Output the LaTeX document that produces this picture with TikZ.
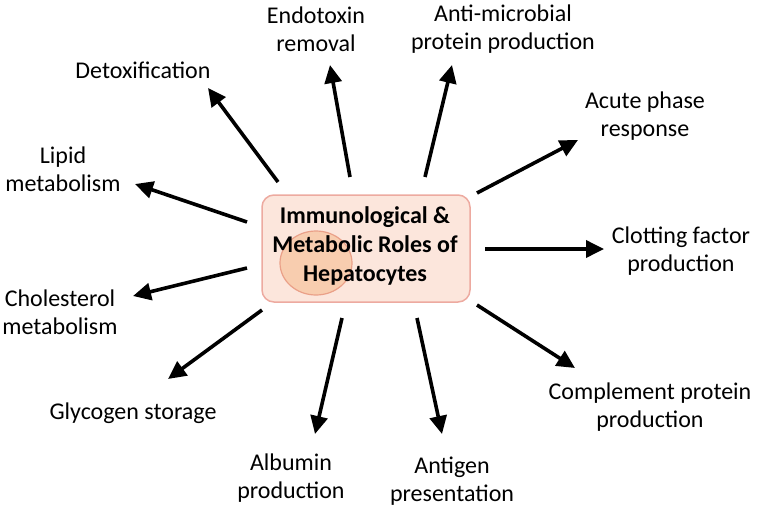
\documentclass[tikz,border=0pt]{standalone}
\usepackage{fontspec}
\setmainfont{Carlito}
\usetikzlibrary{arrows.meta}
\definecolor{cellfill}{HTML}{FCE6DC}
\definecolor{celledge}{HTML}{EDAAA0}
\definecolor{nucfill}{HTML}{F8CDAF}
\definecolor{nucedge}{HTML}{EAA088}

\begin{document}
\begin{tikzpicture}[x=1pt, y=-1pt,
  role/.style={align=center, font=\fontsize{24}{28}\selectfont, inner sep=0pt},
  arr/.style={line width=3.6pt, -{Triangle[length=18pt, width=17pt]}}]

  \useasboundingbox (0,0) rectangle (758,507);

  % Hepatocyte
  \draw[celledge, line width=1.5pt, fill=cellfill, rounded corners=12pt]
    (262,195) rectangle (470,302);
  \draw[nucedge, line width=1.2pt, fill=nucfill] (316,263) ellipse (36 and 32);
  \node[align=center, font=\fontsize{24}{29}\selectfont\bfseries, inner sep=0pt]
    (hep) at (365,246) {Immunological \&\\Metabolic Roles of\\Hepatocytes};

  % Roles
  \node[role] (detox)  at (143,70)  {Detoxification};
  \node[role] (endo)   at (316,29)  {Endotoxin\\removal};
  \node[role] (amp)    at (503,29)  {Anti-microbial\\protein production};
  \node[role] (acute)  at (645,116) {Acute phase\\response};
  \node[role] (lipid)  at (63,169)  {Lipid\\metabolism};
  \node[role] (chol)   at (60,312)  {Cholesterol\\metabolism};
  \node[role] (clot)   at (681,251) {Clotting factor\\production};
  \node[role] (compl)  at (650,407) {Complement protein\\production};
  \node[role] (glyc)   at (133,413) {Glycogen storage};
  \node[role] (alb)    at (291,478) {Albumin\\production};
  \node[role] (antig)  at (452,481) {Antigen\\presentation};

  % Arrow ends
  \coordinate (detox-s) at (278,182);  \coordinate (detox-e) at (208,88);
  \coordinate (endo-s)  at (350,177);  \coordinate (endo-e)  at (330,65);
  \coordinate (amp-s)   at (425,177);  \coordinate (amp-e)   at (452,65);
  \coordinate (acute-s) at (477,193);  \coordinate (acute-e) at (578,140);
  \coordinate (clot-s)  at (485,249);  \coordinate (clot-e)  at (604,249);
  \coordinate (compl-s) at (477,305);  \coordinate (compl-e) at (575,368);
  \coordinate (antig-s) at (417,318);  \coordinate (antig-e) at (442,434);
  \coordinate (alb-s)   at (342,318);  \coordinate (alb-e)   at (315,434);
  \coordinate (glyc-s)  at (262,310);  \coordinate (glyc-e)  at (168,379);
  \coordinate (chol-s)  at (247,268);  \coordinate (chol-e)  at (133,296);
  \coordinate (lipid-s) at (247,222);  \coordinate (lipid-e) at (135,184);

  % Arrows
  \foreach \r in {detox,endo,amp,acute,clot,compl,antig,alb,glyc,chol,lipid} {
    \draw[arr] (\r-s) -- (\r-e);
  }

\end{tikzpicture}
\end{document}
